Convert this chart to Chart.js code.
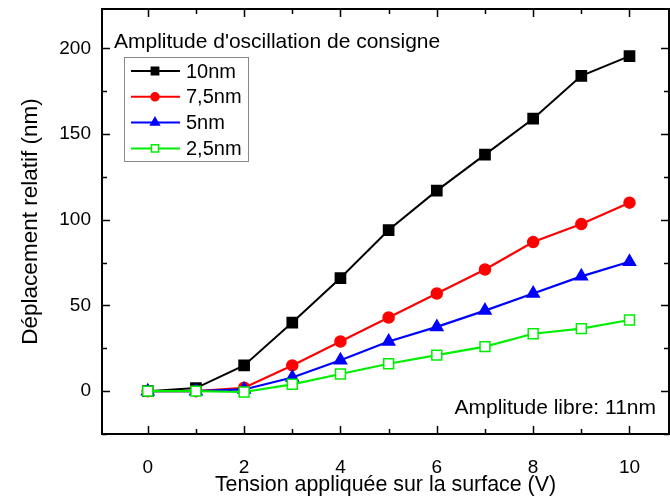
<!DOCTYPE html>
<html>
<head>
<meta charset="utf-8">
<script src="https://cdn.jsdelivr.net/npm/chart.js@4.4.0/dist/chart.umd.min.js"></script>
<style>
  html, body { margin: 0; padding: 0; background: #fff; overflow: hidden; }
  #wrap { width: 670px; height: 500px; }
</style>
</head>
<body>
<div id="wrap"><canvas id="chart"></canvas></div>
<script>
// data
const voltages = [0, 1, 2, 3, 4, 5, 6, 7, 8, 9, 10];
const amp10nm = [0, 1.8, 15, 40, 66, 94, 117, 138, 159, 184, 195.5];
const amp75nm = [0, 0, 2, 15, 29, 43, 57, 71, 87, 97.5, 110];
const amp5nm = [0, 0, 1, 8, 18, 29, 37.5, 47, 57, 67, 75.5];
const amp25nm = [0, 0, -0.5, 4, 10, 16, 21, 26, 33.5, 36.5, 41.5];

const xTickValues = [0, 1, 2, 3, 4, 5, 6, 7, 8, 9, 10];
const yTickValues = [-25, 0, 25, 50, 75, 100, 125, 150, 175, 200];

const legendTitle = "Amplitude d'oscillation de consigne";
const noteText = "Amplitude libre: 11nm";

const FONT = "'Liberation Sans', Arial, sans-serif";

function pts(vals) {
    return voltages.map((v, i) => ({ x: v, y: vals[i] }));
}

function noPadding(scale) {
    scale.paddingTop = 0;
    scale.paddingBottom = 0;
    scale.paddingLeft = 0;
    scale.paddingRight = 0;
}

// frame with inward ticks on all four sides
const framePlugin = {
    id: "frame",
    beforeDatasetsDraw(chart) {
        const { ctx, chartArea: a, scales } = chart;
        ctx.save();
        ctx.strokeStyle = "#000";
        ctx.lineWidth = 1.5;
        ctx.beginPath();
        xTickValues.forEach((v) => {
            const px = Math.round(scales.x.getPixelForValue(v)) + 0.5;
            const len = v % 2 === 0 ? 8 : 5;
            ctx.moveTo(px, a.bottom); ctx.lineTo(px, a.bottom - len);
            ctx.moveTo(px, a.top); ctx.lineTo(px, a.top + len);
        });
        yTickValues.forEach((v) => {
            const py = Math.round(scales.y.getPixelForValue(v)) + 0.5;
            const len = v % 50 === 0 ? 8 : 5;
            ctx.moveTo(a.left, py); ctx.lineTo(a.left + len, py);
            ctx.moveTo(a.right, py); ctx.lineTo(a.right - len, py);
        });
        ctx.stroke();
        ctx.lineWidth = 2;
        ctx.strokeRect(a.left, a.top, a.right - a.left, a.bottom - a.top);
        ctx.restore();
    },
    afterDraw(chart) {
        const { ctx } = chart;
        ctx.save();
        ctx.fillStyle = "#000";
        ctx.textBaseline = "middle";
        ctx.font = "21px " + FONT;
        ctx.textAlign = "left";
        ctx.fillText(legendTitle, 114, 42);

        // legend box, smaller symbols than in the plot
        ctx.strokeStyle = "#888";
        ctx.lineWidth = 1;
        ctx.strokeRect(124.5, 57.5, 124, 104);
        ctx.font = "20px " + FONT;
        chart.data.datasets.forEach((ds, i) => {
            const y = 71 + i * 25.8;
            ctx.strokeStyle = ds.borderColor;
            ctx.lineWidth = 2;
            ctx.beginPath();
            ctx.moveTo(131, y); ctx.lineTo(180, y);
            ctx.stroke();
            ctx.fillStyle = ds.pointBackgroundColor;
            ctx.strokeStyle = ds.borderColor;
            ctx.lineWidth = 1.5;
            Chart.helpers.drawPoint(ctx, {
                pointStyle: ds.pointStyle, rotation: 0,
                radius: ds.pointRadius * 0.72, borderWidth: 1.5
            }, 155, y);
            ctx.fillStyle = "#000";
            ctx.fillText(ds.label, 186, y + 1);
        });

        ctx.font = "21px " + FONT;
        ctx.textAlign = "right";
        ctx.fillText(noteText, 656, 408);
        ctx.restore();
    }
};

new Chart(document.getElementById("chart"), {
    type: "line",
    data: {
        datasets: [
            {
                label: "10nm", data: pts(amp10nm), order: 4,
                borderColor: "#000", pointBackgroundColor: "#000",
                pointStyle: "rect", pointRadius: 7.2, borderWidth: 2
            },
            {
                label: "7,5nm", data: pts(amp75nm), order: 3,
                borderColor: "#ff0000", pointBackgroundColor: "#ff0000",
                pointStyle: "circle", pointRadius: 5.5, borderWidth: 2.2
            },
            {
                label: "5nm", data: pts(amp5nm), order: 2,
                borderColor: "#0000ff", pointBackgroundColor: "#0000ff",
                pointStyle: "triangle", pointRadius: 7, borderWidth: 2.2
            },
            {
                label: "2,5nm", data: pts(amp25nm), order: 1,
                borderColor: "#00ee00", pointBackgroundColor: "#ffffff",
                pointStyle: "rect", pointRadius: 7, borderWidth: 2.2
            }
        ]
    },
    options: {
        responsive: true,
        maintainAspectRatio: false,
        animation: false,
        layout: { autoPadding: false, padding: { top: 9, right: 1, left: 0, bottom: 0 } },
        elements: { line: { tension: 0 }, point: { pointBorderWidth: 1.5, hoverRadius: 7 } },
        plugins: { legend: { display: false }, tooltip: { enabled: false } },
        scales: {
            x: {
                type: "linear",
                min: -0.95,
                max: 10.82,
                afterBuildTicks(scale) {
                    scale.ticks = xTickValues.filter((v) => v % 2 === 0).map((v) => ({ value: v }));
                },
                afterFit(scale) { scale.height = 66; noPadding(scale); },
                grid: { display: false, drawTicks: false },
                border: { display: false },
                ticks: { color: "#000", font: { family: FONT, size: 19 }, padding: 22, maxRotation: 0 },
                title: {
                    display: true, text: "Tension appliquée sur la surface (V)",
                    color: "#000", font: { family: FONT, size: 21.4 }, padding: { top: 0, bottom: 2 }
                }
            },
            y: {
                min: -25,
                max: 223,
                afterBuildTicks(scale) {
                    scale.ticks = yTickValues.filter((v) => v % 50 === 0).map((v) => ({ value: v }));
                },
                afterFit(scale) { scale.width = 102; noPadding(scale); },
                grid: { display: false, drawTicks: false },
                border: { display: false },
                ticks: { color: "#000", font: { family: FONT, size: 19 }, padding: 11 },
                title: {
                    display: true, text: "Déplacement relatif (nm)",
                    color: "#000", font: { family: FONT, size: 22.5 }, padding: { top: 17, bottom: 0 }
                }
            }
        }
    },
    plugins: [framePlugin]
});
</script>
</body>
</html>
